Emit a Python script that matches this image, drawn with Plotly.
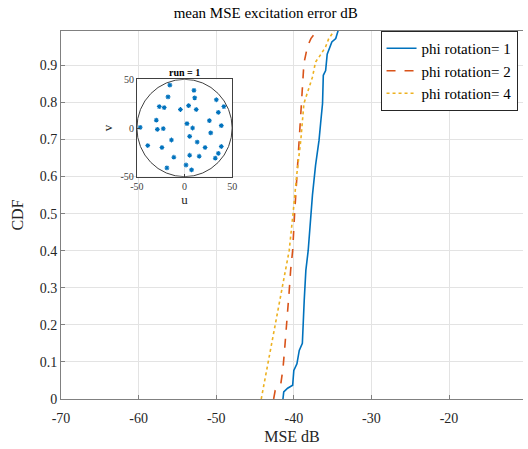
import plotly.graph_objects as go

# ---- main CDF data ----
phi1_x = [-41.4, -41.3, -40.8, -40.15, -40.0, -39.6, -39.3, -38.9, -38.66, -38.45, -38.15,
          -37.9, -37.6, -37.2, -36.75, -36.55, -36.3, -36.2, -35.9, -35.7, -35.1, -34.6, -34.3, -34.2]
phi1_y = [0.0, 0.019, 0.029, 0.037, 0.077, 0.095, 0.131, 0.15, 0.266, 0.347, 0.40,
          0.47, 0.55, 0.63, 0.698, 0.743, 0.797, 0.873, 0.886, 0.93, 0.963, 0.972, 0.99, 1.0]

phi2_x = [-42.6, -42.4, -41.7, -41.4, -41.2, -40.9, -40.6, -40.4, -40.15, -39.9, -39.6,
          -39.3, -39.0, -38.7, -38.25, -37.8, -37.0, -36.8]
phi2_y = [0.0, 0.023, 0.037, 0.082, 0.13, 0.2, 0.29, 0.35, 0.40, 0.5, 0.6,
          0.698, 0.797, 0.905, 0.95, 0.972, 0.994, 1.0]

phi4_x = [-44.2, -43.75, -43.1, -42.5, -41.85, -41.2, -40.6, -40.1, -39.65, -39.1, -38.7,
          -37.6, -37.2, -36.75, -35.9, -35.5, -34.9, -34.7]
phi4_y = [0.0, 0.05, 0.12, 0.19, 0.266, 0.338, 0.40, 0.5, 0.6, 0.698, 0.797,
          0.868, 0.909, 0.922, 0.95, 0.972, 0.99, 1.0]

series_names = ["phi rotation= 1", "phi rotation= 2", "phi rotation= 4"]

# ---- inset element positions (run = 1) ----
inset_u = [-15.4, -17.3, 9.9, 10.7, 33.4, 41.3, -26.5, -21.3, -4.3, 4.3, 12.3, 35.5,
           -29.6, 26.1, 2.6, -46.5, -28.5, -22.3, 8.5, 38.6, 27.5, 5.4, -13.7, 13.3,
           -38.6, -23.7, 21.6, 38.6, 35.5, 32.3, -11.2, 5.4, 15.4, -18.5, 1.6, 7.4]
inset_v = [44, 32, 38.7, 31, 29, 22, 22, 21, 19, 23, 19, 16,
           8, 7.5, 4.5, 0.7, -1.4, -0.7, 0, 2.4, -5, -8.6, -12.3, -14.4,
           -18, -20, -20, -19, -26, -31, -30, -28, -29, -41, -38, -43]

x_ticks = [-70, -60, -50, -40, -30, -20]
y_ticks = [0, 0.1, 0.2, 0.3, 0.4, 0.5, 0.6, 0.7, 0.8, 0.9]
inset_ticks = [-50, 0, 50]

FONT = "Liberation Serif, Times New Roman, DejaVu Serif, serif"
colors = ["#0072BD", "#D95319", "#EDB120"]
dashes = ["solid", "dash", "dot"]

fig = go.Figure()
for xs, ys, name, c, d in zip([phi1_x, phi2_x, phi4_x], [phi1_y, phi2_y, phi4_y],
                              series_names, colors, dashes):
    fig.add_trace(go.Scatter(x=xs, y=ys, mode="lines", name=name,
                             line=dict(color=c, width=1.6, dash=d),
                             xaxis="x", yaxis="y"))

fig.add_trace(go.Scatter(x=inset_u, y=inset_v, mode="markers", showlegend=False,
                         marker=dict(symbol="asterisk-open", size=4, color="#0072BD",
                                     line=dict(color="#0072BD", width=1.1)),
                         xaxis="x2", yaxis="y2"))

L, R, T, B = 61, 0, 31, 50
W, H = 528, 449
pw = W - L - R
ph = H - T - B

def px_x(p):
    return (p - L) / pw

def px_y(p):
    return (H - B - p) / ph

fig.add_shape(type="circle", xref="x2", yref="y2", x0=-50, y0=-50, x1=50, y1=50,
              line=dict(color="#404040", width=1))

fig.update_layout(
    width=W, height=H,
    margin=dict(l=L, r=R, t=T, b=B),
    paper_bgcolor="white", plot_bgcolor="white",
    font=dict(family=FONT, color="#262626"),
    title=dict(text="mean MSE excitation error dB", x=px_x(296), xanchor="center",
               y=1 - 13 / H, yanchor="middle", font=dict(size=15, color="black", family=FONT)),
    showlegend=True,
    legend=dict(x=px_x(384), y=1.0, xanchor="left", yanchor="top",
                bgcolor="white", bordercolor="#262626", borderwidth=1,
                font=dict(size=15, family=FONT, color="black"),
                tracegroupgap=0, itemwidth=30),
    xaxis=dict(range=[-70, -10.47], tickvals=x_ticks, ticktext=[str(t) for t in x_ticks],
               showgrid=True, gridcolor="#E3E3E3", gridwidth=1,
               showline=True, linecolor="#808080", linewidth=1, mirror=True,
               ticks="inside", ticklen=4, tickcolor="#808080",
               tickfont=dict(size=14, family=FONT, color="#262626"),
               ticklabelstandoff=6,
               zeroline=False,
               title=dict(text="MSE dB", font=dict(size=16, family=FONT, color="#262626"),
                          standoff=6)),
    yaxis=dict(range=[0, 0.9925], tickvals=y_ticks, ticktext=[("0" if t == 0 else f"{t:.1f}") for t in y_ticks],
               showgrid=True, gridcolor="#E3E3E3", gridwidth=1,
               showline=True, linecolor="#808080", linewidth=1, mirror=False,
               ticks="inside", ticklen=4, tickcolor="#808080",
               tickfont=dict(size=14, family=FONT, color="#262626"),
               zeroline=False,
               title=dict(text="CDF", font=dict(size=16, family=FONT, color="#262626"),
                          standoff=12)),
    xaxis2=dict(domain=[px_x(137.7), px_x(234)], anchor="y2", range=[-50, 50],
                tickvals=inset_ticks, ticktext=[str(t) for t in inset_ticks],
                showgrid=False, zeroline=True, zerolinecolor="#E3E3E3", zerolinewidth=1,
                showline=True, linecolor="#404040", linewidth=1, mirror=True,
                ticks="inside", ticklen=3, tickcolor="#404040",
                tickfont=dict(size=10, family=FONT, color="#404040"),
                title=dict(text="u", font=dict(size=13, family=FONT, color="#262626"), standoff=2)),
    yaxis2=dict(domain=[px_y(176.7), px_y(79.3)], anchor="x2", range=[-50, 50],
                tickvals=inset_ticks, ticktext=[str(t) for t in inset_ticks],
                showgrid=False, zeroline=False,
                showline=True, linecolor="#404040", linewidth=1, mirror=True,
                ticks="inside", ticklen=3, tickcolor="#404040",
                tickfont=dict(size=10, family=FONT, color="#404040"),
                title=dict(text="v", font=dict(size=13, family=FONT, color="#262626"), standoff=4)),
)

fig.add_annotation(text="<b>run = 1</b>", xref="paper", yref="paper",
                   x=px_x(186), y=px_y(73), xanchor="center", yanchor="middle",
                   showarrow=False, font=dict(size=10, family=FONT, color="black"))

fig.write_html("out.html")
